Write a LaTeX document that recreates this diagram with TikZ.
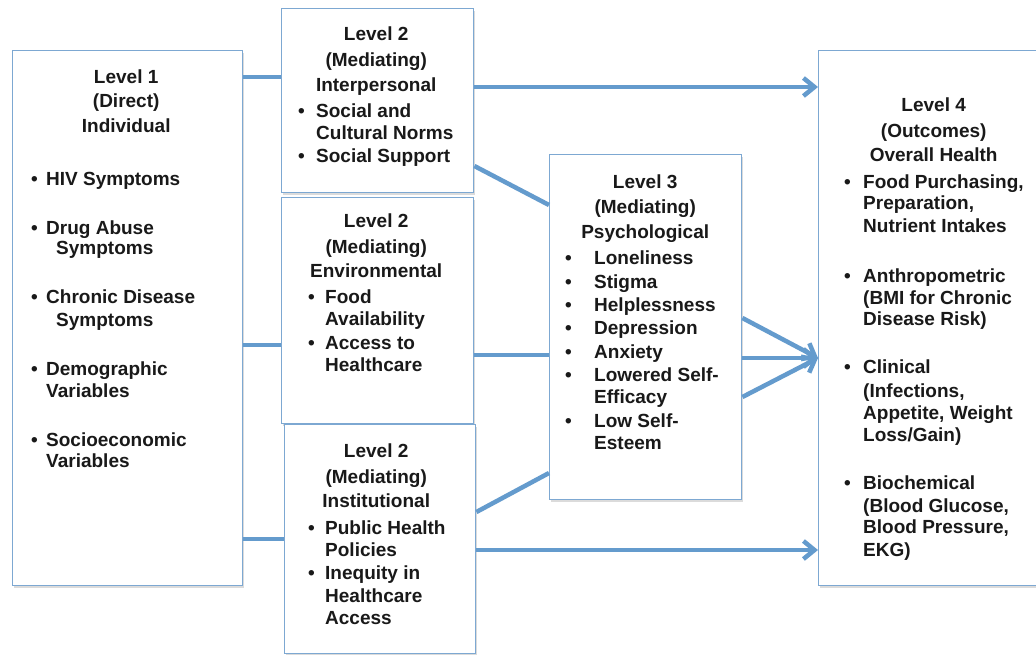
\documentclass[tikz,border=0pt]{standalone}
\usepackage{fontspec}
\setmainfont{Liberation Sans}
\usetikzlibrary{arrows.meta,shadows}
\definecolor{boxc}{RGB}{125,168,210}
\definecolor{linec}{RGB}{100,155,205}
\newdimen\mybw \newdimen\mybx \newdimen\mytx
\newcommand\tb[4]{\vtop{\mybw=#1pt\mybx=#2pt\mytx=#3pt\baselineskip=0pt\lineskip=0pt\lineskiplimit=-\maxdimen #4}}
\newcommand\lnC[1]{\hbox to\mybw{\hfil#1\hfil}}
\newcommand\lnI[1]{\hbox{\hbox to\mytx{\kern\mybx\textbullet\hfil}#1}}
\newcommand\lnK[1]{\hbox{\kern\mytx#1}}
\newcommand\lnG[1]{\vskip#1pt}
\tikzset{
  box/.style={draw=boxc, line width=1.4pt, fill=white, anchor=north west, inner sep=0pt,
    drop shadow={shadow xshift=1.5pt, shadow yshift=-2pt, opacity=0.35, fill=black!40}},
  txt/.style={anchor=base west, inner sep=0pt, font=\fontsize{19}{22}\selectfont\bfseries, text=black!90},
  conn/.style={draw=linec, line width=4.5pt},
  arr/.style={conn, -{Straight Barb[length=11pt,width=18pt,line width=4.5pt]}}
}
\begin{document}
\begin{tikzpicture}[x=1pt,y=-1pt]
\useasboundingbox (0,0) rectangle (1036,654);
\fill[white] (0,0) rectangle (1036,654);
% boxes
\node[box, minimum width=230pt, minimum height=535pt] (l1) at (12,50) {};
\node[box, minimum width=192pt, minimum height=184pt] (ip) at (281,8) {};
\node[box, minimum width=192pt, minimum height=226pt] (en) at (281,197) {};
\node[box, minimum width=191pt, minimum height=229pt] (in) at (284,424) {};
\node[box, minimum width=192pt, minimum height=345pt] (l3) at (549,154) {};
\node[box, minimum width=240pt, minimum height=535pt] (l4) at (818,50) {};
% texts
\node[txt] (t1) at (12,83) {\tb{228}{19}{34}{%
\lnC{Level 1}\lnG{24.5}\lnC{(Direct)}\lnG{24.5}\lnC{Individual}%
\lnG{53.3}\lnI{HIV Symptoms}\lnG{48.7}\lnI{Drug Abuse}\lnG{20.5}\hbox{\kern44pt Symptoms}%
\lnG{48.5}\lnI{Chronic Disease}\lnG{23}\hbox{\kern44pt Symptoms}%
\lnG{49}\lnI{Demographic}\lnG{22}\lnK{Variables}%
\lnG{49}\lnI{Socioeconomic}\lnG{21}\lnK{Variables}}};
\node[txt] (t2) at (281,40) {\tb{190}{17}{35}{%
\lnC{Level 2}\lnG{26}\lnC{(Mediating)}\lnG{25.3}\lnC{Interpersonal}%
\lnG{25.7}\lnI{Social and}\lnG{22.6}\lnK{Cultural Norms}\lnG{22.4}\lnI{Social Support}}};
\node[txt] (t3) at (281,227) {\tb{190}{27}{44}{%
\lnC{Level 2}\lnG{26.5}\lnC{(Mediating)}\lnG{23.5}\lnC{Environmental}%
\lnG{26.6}\lnI{Food}\lnG{21.7}\lnK{Availability}\lnG{24.3}\lnI{Access to}\lnG{21.4}\lnK{Healthcare}}};
\node[txt] (t4) at (284,457) {\tb{184}{24}{41}{%
\lnC{Level 2}\lnG{26}\lnC{(Mediating)}\lnG{24}\lnC{Institutional}%
\lnG{27.7}\lnI{Public Health}\lnG{21.3}\lnK{Policies}\lnG{23.7}\lnI{Inequity in}%
\lnG{22.3}\lnK{Healthcare}\lnG{22.7}\lnK{Access}}};
\node[txt] (t5) at (549,188) {\tb{192}{16}{45}{%
\lnC{Level 3}\lnG{25.6}\lnC{(Mediating)}\lnG{24.4}\lnC{Psychological}%
\lnG{26.3}\lnI{Loneliness}\lnG{24.3}\lnI{Stigma}\lnG{22.7}\lnI{Helplessness}%
\lnG{23.2}\lnI{Depression}\lnG{24.1}\lnI{Anxiety}\lnG{22.7}\lnI{Lowered Self-}%
\lnG{22.3}\lnK{Efficacy}\lnG{23.4}\lnI{Low Self-}\lnG{22.6}\lnK{Esteem}}};
\node[txt] (t6) at (818,111.3) {\tb{231}{26}{45}{%
\lnC{Level 4}\lnG{26.4}\lnC{(Outcomes)}\lnG{23.6}\lnC{Overall Health}%
\lnG{26.7}\lnI{Food Purchasing,}\lnG{21.6}\lnK{Preparation,}\lnG{22.4}\lnK{Nutrient Intakes}%
\lnG{50}\lnI{Anthropometric}\lnG{22.6}\lnK{(BMI for Chronic}\lnG{20.7}\lnK{Disease Risk)}%
\lnG{48.3}\lnI{Clinical}\lnG{23.4}\lnK{(Infections,}\lnG{22.6}\lnK{Appetite, Weight}\lnG{21.4}\lnK{Loss/Gain)}%
\lnG{48.3}\lnI{Biochemical}\lnG{23.3}\lnK{(Blood Glucose,}\lnG{21}\lnK{Blood Pressure,}\lnG{22.4}\lnK{EKG)}}};
% helper levels
\coordinate (ya) at (0,77);
\coordinate (yb) at (0,345);
\coordinate (yc) at (0,539);
\coordinate (yd) at (0,87);
\coordinate (ye) at (0,355);
\coordinate (yf) at (0,550);
\coordinate (yg) at (0,358);
\coordinate (yh) at (0,166);
\coordinate (yi) at (0,205);
\coordinate (yj) at (0,512);
\coordinate (yk) at (0,473);
\coordinate (yl) at (0,318);
\coordinate (ym) at (0,397);
% connectors
\draw[conn] (l1.east |- ya) -- (ip.west |- ya);
\draw[conn] (l1.east |- yb) -- (en.west |- yb);
\draw[conn] (l1.east |- yc) -- (in.west |- yc);
\draw[arr] (ip.east |- yd) -- (l4.west |- yd);
\draw[conn] (ip.east |- yh) -- (l3.west |- yi);
\draw[conn] (en.east |- ye) -- (l3.west |- ye);
\draw[conn] (in.east |- yj) -- (l3.west |- yk);
\draw[arr] (in.east |- yf) -- (l4.west |- yf);
\draw[arr] (l3.east |- yl) -- (l4.west |- yg);
\draw[arr] (l3.east |- yg) -- (l4.west |- yg);
\draw[arr] (l3.east |- ym) -- (l4.west |- yg);
\end{tikzpicture}
\end{document}
